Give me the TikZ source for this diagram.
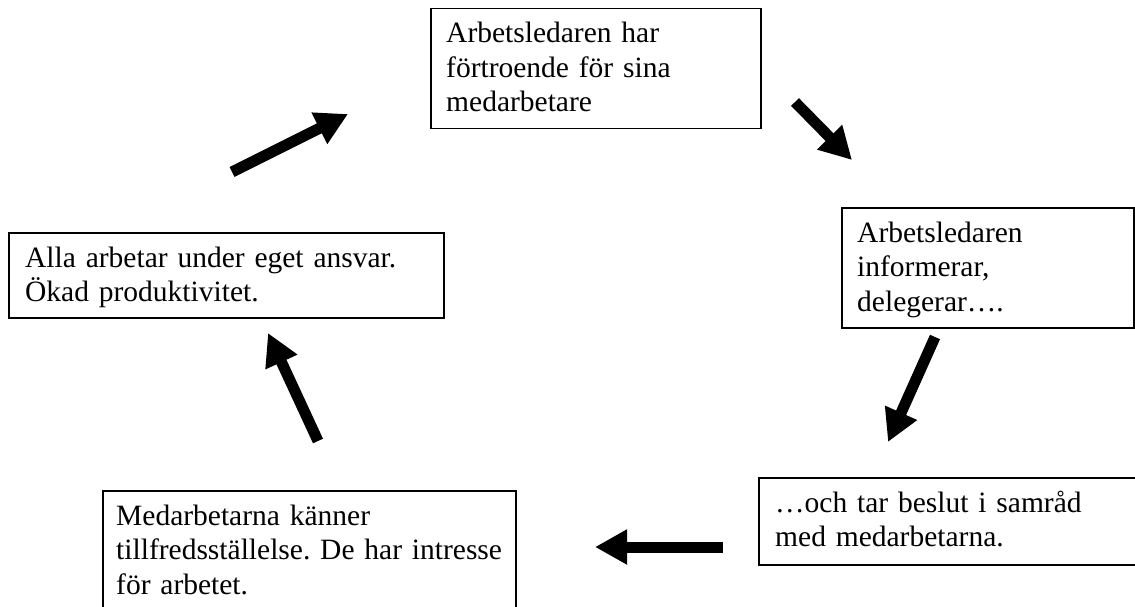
\documentclass[tikz,border=0pt]{standalone}
\usepackage{fontspec}
\setmainfont{Liberation Serif}
\usetikzlibrary{arrows.meta}
\frenchspacing
\begin{document}
\begin{tikzpicture}[x=1pt,y=-1pt,
  box/.style={draw=black, line width=1.5pt, inner sep=0pt, anchor=north west},
  txt/.style={anchor=base west, inner sep=0pt, text width=520pt, align=left,
              font=\fontsize{29.5}{34.5}\selectfont},
  bigarrow/.style={line width=11pt, -{Triangle[width=33pt,length=32pt]}}]
\fill[white] (0,0) rectangle (1135,607);
\useasboundingbox (0,0) rectangle (1135,607);
\clip (0,0) rectangle (1135,607);
% boxes
\node[box, minimum width=330pt, minimum height=120pt] (b1) at (430,8) {};
\node[box, minimum width=292pt, minimum height=120pt] (b2) at (841,207) {};
\node[box, minimum width=390pt, minimum height=87pt] (b3) at (758,477) {};
\node[box, minimum width=413pt, minimum height=140pt] (b4) at (102,490) {};
\node[box, minimum width=435pt, minimum height=85pt] (b5) at (8,232) {};
% texts
\node[txt] (t1) at (446,43) {Arbetsledaren har\\förtroende för sina\\medarbetare};
\node[txt] (t2) at (857,242) {Arbetsledaren\\informerar,\\delegerar….};
\node[txt] (t3) at (775,512) {…och tar beslut i samråd\\med medarbetarna.};
\node[txt] (t4) at (116,525) {Medarbetarna känner\\tillfredsställelse. De har intresse\\för arbetet.};
\node[txt] (t5) at (25,267) {Alla arbetar under eget ansvar.\\Ökad produktivitet.};
% arrows
\coordinate (a1s) at (232,172); \coordinate (a1e) at (348,114);
\coordinate (a2s) at (795,102); \coordinate (a2e) at (852,160);
\coordinate (a3s) at (935,337); \coordinate (a3e) at (888,442);
\coordinate (a4s) at (723,547); \coordinate (a4e) at (595,547);
\coordinate (a5s) at (318,441); \coordinate (a5e) at (268,333);
\draw[bigarrow] (a1s) -- (a1e);
\draw[bigarrow] (a2s) -- (a2e);
\draw[bigarrow] (a3s) -- (a3e);
\draw[bigarrow] (a4s) -- (a4e);
\draw[bigarrow] (a5s) -- (a5e);
\end{tikzpicture}
\end{document}
